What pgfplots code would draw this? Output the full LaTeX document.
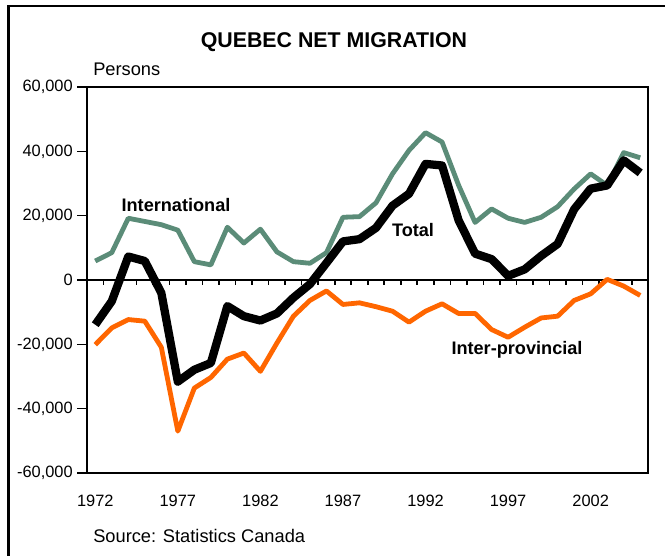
\documentclass[border=0pt]{standalone}
\usepackage{pgfplots}
\pgfplotsset{compat=1.18}
\usepackage{pgfplotstable}
\usepackage{fontspec}
\setmainfont{Liberation Sans}
\definecolor{intl}{HTML}{5B8C78}
\definecolor{interp}{HTML}{FF6600}
\pgfplotstableread{
year intl total interp
1972 5900 -13900 -20100
1973 8500 -6600 -14900
1974 19200 7300 -12300
1975 18200 5900 -12800
1976 17200 -4000 -20900
1977 15500 -31600 -47000
1978 5700 -27900 -33600
1979 4700 -25800 -30300
1980 16400 -8100 -24600
1981 11500 -11250 -22700
1982 15800 -12600 -28400
1983 8750 -10400 -19600
1984 5700 -5500 -11250
1985 5200 -1300 -6350
1986 8500 5300 -3400
1987 19500 12000 -7600
1988 19700 12700 -7100
1989 24000 16200 -8300
1990 33000 23100 -9700
1991 40300 26800 -13100
1992 45800 36100 -9700
1993 42900 35600 -7400
1994 29500 18600 -10400
1995 17900 8200 -10400
1996 22100 6500 -15400
1997 19200 1300 -17800
1998 17900 3300 -14700
1999 19500 7500 -11800
2000 22800 11200 -11250
2001 28300 22000 -6350
2002 33000 28400 -4300
2003 29400 29400 200
2004 39600 37200 -1900
2005 38000 33300 -4800
}\migr
\begin{document}
\begin{tikzpicture}[x=0.75pt,y=0.75pt]
\useasboundingbox (0,0) rectangle (665,556);
\draw[line width=2pt] (8.3,-20) -- (8.3,550) -- (700,550);
\begin{axis}[
  at={(65.25pt,62.25pt)}, anchor=south west,
  scale only axis, width=421.1pt, height=289.5pt,
  xmin=1971.5, xmax=2005.5, ymin=-60000, ymax=60000,
  axis line style={line width=1.5pt},
  xtick={1972,1977,...,2002},
  ytick={-60000,-40000,...,60000},
  ytick pos=left, tick align=outside,
  major tick length=7.5pt,
  xtick style={draw=none},
  ytick style={line width=1.2pt, black},
  /pgf/number format/assume math mode=true,
  yticklabel style={font=\fontsize{12.3}{14}\selectfont, inner sep=0pt, xshift=-3pt, /pgf/number format/1000 sep={,}},
  xticklabel style={font=\fontsize{12.3}{14}\selectfont, inner sep=0pt, anchor=north, yshift=-8.5pt, /pgf/number format/1000 sep={}},
  scaled y ticks=false,
  clip=false,
]
\draw[line width=1.5pt] (axis cs:1971.5,0) -- (axis cs:2005.5,0);
\pgfplotsinvokeforeach{1972.5,1973.5,...,2004.5}{
  \draw[line width=1.2pt] (axis cs:#1,0) -- ++(0pt,-3.75pt);
}
\addplot[color=intl, line width=3.6pt, line join=round] table[x=year,y=intl] {\migr};
\addplot[color=interp, line width=3.6pt, line join=round] table[x=year,y=interp] {\migr};
\addplot[color=black, line width=6.2pt, line join=round] table[x=year,y=total] {\migr};
\end{axis}
\node[font=\fontsize{16}{19}\selectfont\bfseries] at (334,514) {QUEBEC NET MIGRATION};
\node[font=\fontsize{13.7}{16}\selectfont, anchor=base west, inner sep=0pt] at (93,480) {Persons};
\node[font=\fontsize{13.7}{16}\selectfont, anchor=base west, inner sep=0pt] at (93,13) {Source: Statistics Canada};
\node[font=\fontsize{13.6}{16}\selectfont\bfseries, anchor=base, inner sep=0pt] at (176,344) {International};
\node[font=\fontsize{13.6}{16}\selectfont\bfseries, anchor=base, inner sep=0pt] at (413,319) {Total};
\node[font=\fontsize{13.6}{16}\selectfont\bfseries, anchor=base, inner sep=0pt] at (517,201) {Inter-provincial};
\end{tikzpicture}
\end{document}
